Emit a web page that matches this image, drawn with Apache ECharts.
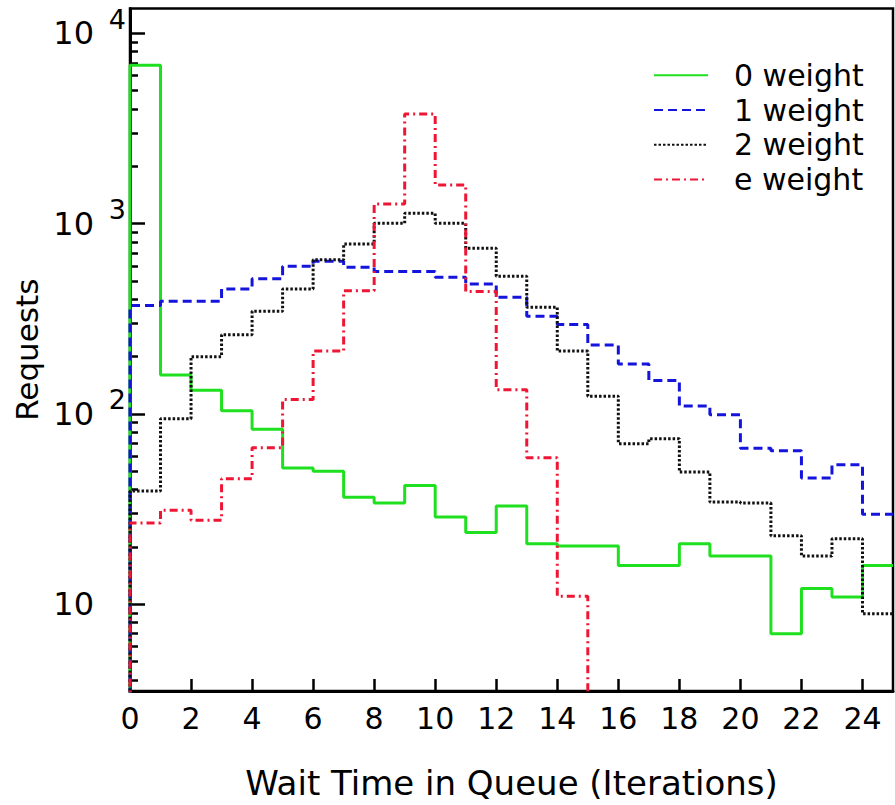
<!DOCTYPE html>
<html>
<head>
<meta charset="utf-8">
<script src="https://cdn.jsdelivr.net/npm/echarts@6/dist/echarts.min.js"></script>
<style>
html,body{margin:0;padding:0;background:#fff;}
#chart{width:895px;height:805px;}
</style>
</head>
<body>
<div id="chart"></div>
<script>
// ---- data ----
const binStarts = [0,1,2,3,4,5,6,7,8,9,10,11,12,13,14,15,16,17,18,19,20,21,22,23,24];
const xTickValues = [0,2,4,6,8,10,12,14,16,18,20,22,24];
const yMajorTicks = [10,100,1000,10000];
const yExponentLabels = [100,1000,10000];
const yMinorTicks = [4,5,6,7,8,9,20,30,40,50,60,70,80,90,200,300,400,500,600,700,800,900,2000,3000,4000,5000,6000,7000,8000,9000];
const seriesNames = ['0 weight','1 weight','2 weight','e weight'];
const weight0 = [6800,160,133,104,83,52,50,36.5,34,42,28.7,23.8,32.8,20.8,20.2,20.2,16,16,20.8,17.9,17.9,7.0,12.1,10.9,16.0];
const weight1 = [371,391,391,454,513,597,635,590,560,560,522,482,410,326,295,230,183,150,110,99,66,64,46,54,29.7];
const weight2 = [39.3,94.4,200,261,346,454,645,782,1004,1132,1004,742,529,364,214,124,69.8,74.1,49.5,34.4,34,22.9,17.9,22.1,8.9];
const weightE = [26.7,31.2,27.6,45.7,66.5,119,214,444,1268,3768,1596,440,134,58.9,11.0];
const FLOOR = 1; // below the visible range: the histogram edges drop to the axis

const FONT = 'DejaVu Sans';

function stepData(vals) {
  const d = [[binStarts[0], FLOOR]];
  vals.forEach((v, i) => d.push([binStarts[i], v]));
  const end = binStarts[vals.length - 1] + 1;
  d.push([end, vals[vals.length - 1]]);
  if (vals.length < binStarts.length) d.push([end, FLOOR]);
  return d;
}

const chart = echarts.init(document.getElementById('chart'), null, {renderer: 'svg'});

const styles = [
  {color: '#1fe01f', type: 'solid'},
  {color: '#1414dc', type: [9, 5]},
  {color: '#111111', type: [2.5, 2]},
  {color: '#ee1634', type: [8, 4, 2, 4]}
];
const datasets = [weight0, weight1, weight2, weightE];

const yRange = {min: 3.5, max: 13500};

chart.setOption({
  animation: false,
  backgroundColor: '#fff',
  grid: {left: 130, right: 2, top: 8.5, bottom: 114, show: true, borderColor: '#000', borderWidth: 2.5, containLabel: false},
  legend: {
    orient: 'vertical', left: 653, top: 58, padding: 0,
    itemWidth: 54, itemHeight: 2, itemGap: 0,
    itemStyle: {opacity: 0},
    data: seriesNames,
    textStyle: {fontFamily: FONT, fontSize: 30, color: '#000', lineHeight: 34.7, padding: [0, 0, 0, 21]}
  },
  xAxis: {
    type: 'value', min: 0, max: 25,
    name: 'Wait Time in Queue (Iterations)', nameLocation: 'middle', nameGap: 75,
    nameTextStyle: {fontFamily: FONT, fontSize: 34, color: '#000'},
    axisLine: {lineStyle: {color: '#000', width: 3}},
    axisTick: {inside: true, length: 12, lineStyle: {color: '#000', width: 2.5}, customValues: xTickValues},
    axisLabel: {fontFamily: FONT, fontSize: 30, color: '#000', margin: 12, customValues: xTickValues},
    splitLine: {show: false}
  },
  yAxis: [
    {
      type: 'log', min: yRange.min, max: yRange.max, logBase: 10,
      name: 'Requests', nameLocation: 'middle', nameGap: 82,
      nameTextStyle: {fontFamily: FONT, fontSize: 31, color: '#000'},
      axisLine: {lineStyle: {color: '#000', width: 3}},
      axisTick: {inside: true, length: 15, lineStyle: {color: '#000', width: 2.5}, customValues: yMajorTicks},
      axisLabel: {
        margin: 36, customValues: yMajorTicks,
        fontFamily: FONT, fontSize: 32, color: '#000',
        formatter: function () { return '10'; }
      },
      splitLine: {show: false}
    },
    {
      type: 'log', min: yRange.min, max: yRange.max, logBase: 10, position: 'left',
      axisLine: {show: false},
      axisTick: {inside: true, length: 8, lineStyle: {color: '#000', width: 2.5}, customValues: yMinorTicks},
      axisLabel: {show: false},
      splitLine: {show: false}
    },
    {
      type: 'log', min: yRange.min, max: yRange.max, logBase: 10, position: 'left',
      axisLine: {show: false},
      axisTick: {show: false},
      axisLabel: {
        margin: 4, customValues: yExponentLabels,
        fontFamily: FONT, fontSize: 27, color: '#000',
        verticalAlign: 'bottom', lineHeight: 28,
        formatter: function (v) { return String(Math.round(Math.log10(v))); }
      },
      splitLine: {show: false}
    }
  ],
  series: datasets.map((vals, i) => ({
    name: seriesNames[i],
    type: 'line',
    step: 'end',
    symbol: 'none',
    yAxisIndex: 0,
    clip: true,
    data: stepData(vals),
    lineStyle: {color: styles[i].color, type: styles[i].type, width: 3},
    itemStyle: {color: styles[i].color}
  }))
});
</script>
</body>
</html>
